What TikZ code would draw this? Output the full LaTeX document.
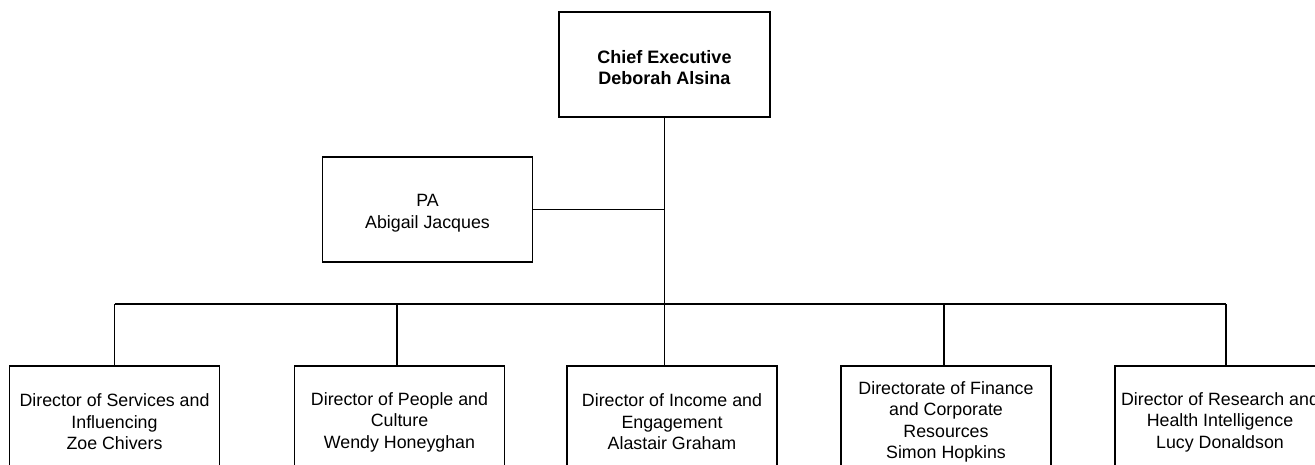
\documentclass[tikz,border=0pt]{standalone}
\usepackage{fontspec}
\setmainfont{Liberation Sans}
\newcommand{\boxgap}{\rule{0pt}{20pt}}
\begin{document}
\begin{tikzpicture}[
          x=1pt, y=-1pt, line width=1.3pt,
          every node/.style={rectangle, draw, line width=1.3pt, align=center, inner sep=0pt,
                             font=\fontsize{17.8}{21.5}\selectfont},
          postbox/.style={minimum width=210pt, minimum height=105pt}
        ]
        \useasboundingbox (0,0) rectangle (1315,465);
        \clip (0,0) rectangle (1315,465);

        % top of the chart
        \node[postbox, minimum width=211pt, font=\fontsize{18}{21}\selectfont\bfseries] (ceo) at (664.5,64.5) {\boxgap Chief Executive\\Deborah Alsina};
        \node[postbox] (pa) at (427.5,209.5) {\boxgap PA\\Abigail Jacques};

        % directors
        \node[postbox] (dirservices) at (114.5,418.5) {\boxgap Director of Services and\\Influencing\\Zoe Chivers};
        \node[postbox] (dirpeople) at (399.5,418.5) {\boxgap Director of People and\\Culture\\Wendy Honeyghan};
        \node[postbox] (dirincome) at (672,418.5) {\boxgap Director of Income and\\Engagement\\Alastair Graham};
        \node[postbox] (dirfinance) at (946,418.5) {\boxgap Directorate of Finance\\and Corporate\\Resources\\Simon Hopkins};
        \node[postbox] (dirresearch) at (1220,418.5) {\boxgap Director of Research and\\Health Intelligence\\Lucy Donaldson};

        \coordinate (bus) at (665,304);

        \draw (ceo.south) -- (ceo.south |- dirincome.north);
        \draw (pa.east) -- (pa.east -| ceo.south);
        \draw (dirservices.north |- bus) -- ([xshift=6pt]dirresearch.north |- bus);
        \draw (dirservices.north) -- (dirservices.north |- bus);
        \draw ([xshift=-2.5pt]dirpeople.north) -- ([xshift=-2.5pt]dirpeople.north |- bus);
        \draw ([xshift=-2pt]dirfinance.north) -- ([xshift=-2pt]dirfinance.north |- bus);
        \draw ([xshift=6pt]dirresearch.north) -- ([xshift=6pt]dirresearch.north |- bus);

        \end{tikzpicture}
\end{document}
